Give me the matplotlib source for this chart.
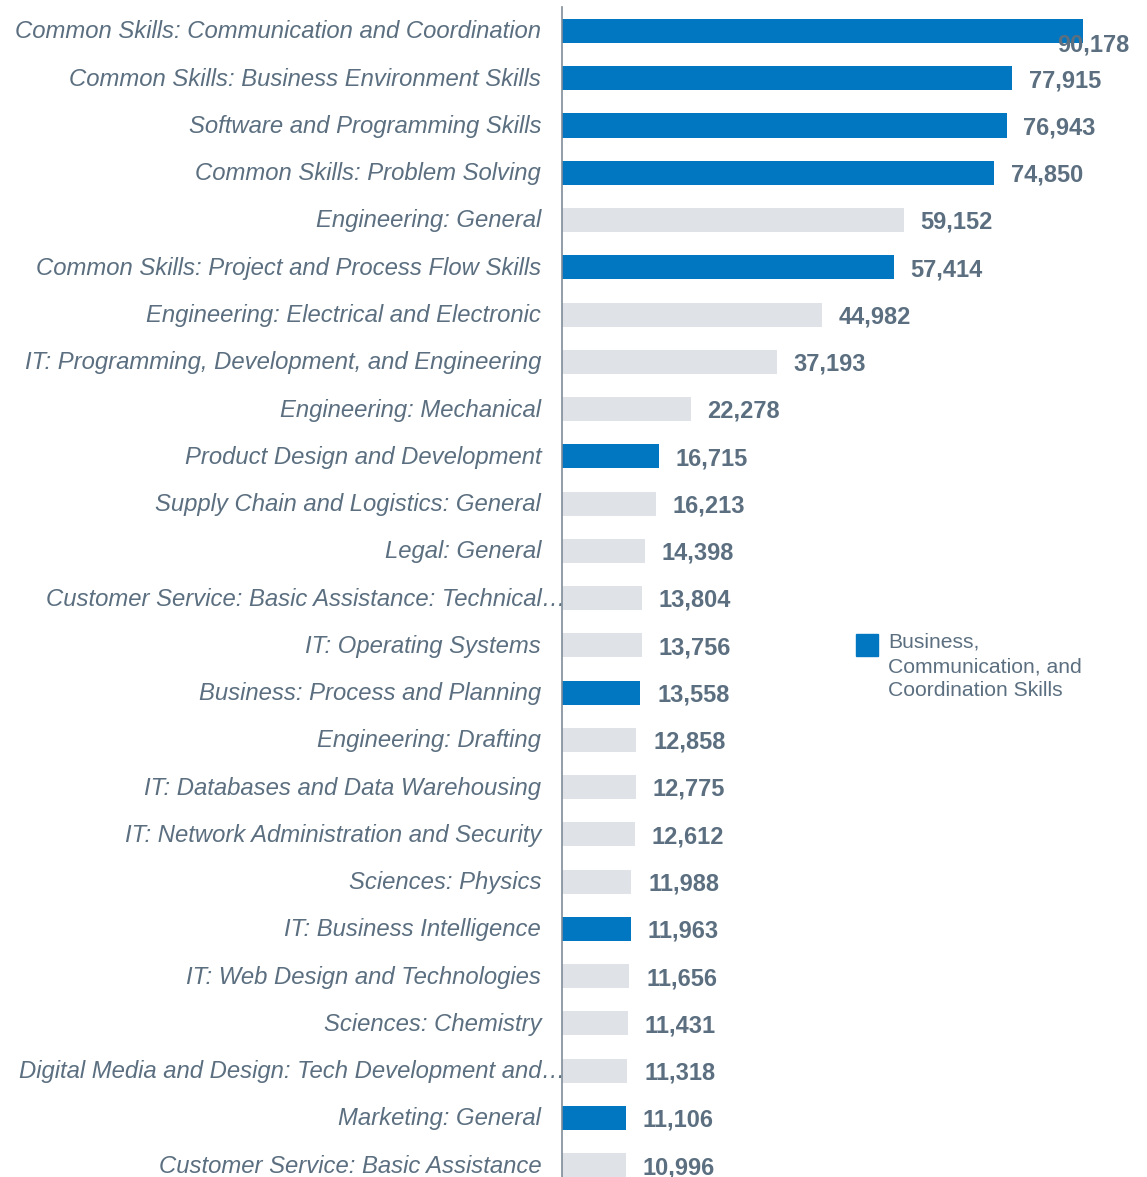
import matplotlib.pyplot as plt
from matplotlib.patches import Rectangle

# data
skills = [
    'Common Skills: Communication and Coordination',
    'Common Skills: Business Environment Skills',
    'Software and Programming Skills',
    'Common Skills: Problem Solving',
    'Engineering: General',
    'Common Skills: Project and Process Flow Skills',
    'Engineering: Electrical and Electronic',
    'IT: Programming, Development, and Engineering',
    'Engineering: Mechanical',
    'Product Design and Development',
    'Supply Chain and Logistics: General',
    'Legal: General',
    'Customer Service: Basic Assistance: Technical\u2026',
    'IT: Operating Systems',
    'Business: Process and Planning',
    'Engineering: Drafting',
    'IT: Databases and Data Warehousing',
    'IT: Network Administration and Security',
    'Sciences: Physics',
    'IT: Business Intelligence',
    'IT: Web Design and Technologies',
    'Sciences: Chemistry',
    'Digital Media and Design: Tech Development and\u2026',
    'Marketing: General',
    'Customer Service: Basic Assistance',
]
postings = [90178, 77915, 76943, 74850, 59152, 57414, 44982, 37193, 22278, 16715,
            16213, 14398, 13804, 13756, 13558, 12858, 12775, 12612, 11988, 11963,
            11656, 11431, 11318, 11106, 10996]
highlight = [True, True, True, True, False, True, False, False, False, True,
             False, False, False, False, True, False, False, False, False, True,
             False, False, False, True, False]
legend_label = 'Business,\nCommunication, and\nCoordination Skills'

blue = '#0077c0'
grey = '#dfe3e7'
txt = '#5b6f80'

plt.rcParams['font.family'] = ['Liberation Sans', 'DejaVu Sans']

fig = plt.figure(figsize=(11.47, 11.77), dpi=100)
ax = fig.add_axes([0.49, 0.0, 0.51, 1 - 7.4 / 1177])

ypos = list(range(len(skills)))
colors = [blue if h else grey for h in highlight]
ax.barh(ypos, postings, height=0.51, color=colors)

ax.set_xlim(0, 101250)
ax.set_ylim(24.25, -0.5)

# value labels
for i, v in enumerate(postings):
    if i == 0:
        # the top label did not fit and sits lower
        ax.text(v - 4400, i + 0.3, f'{v:,}', ha='left', va='center',
                fontsize=17, fontweight='bold', color=txt)
    else:
        ax.text(v + 2900, i + 0.05, f'{v:,}', ha='left', va='center',
                fontsize=17, fontweight='bold', color=txt)

# category labels, truncated ones run up to the axis line
for i, s in enumerate(skills):
    x = 550 if s.endswith('\u2026') else -3600
    ax.text(x, i + 0.02, s, ha='right', va='center', fontsize=17.2,
            fontstyle='italic', color=txt)

ax.set_xticks([])
ax.set_yticks([])
for sp in ['top', 'right', 'bottom']:
    ax.spines[sp].set_visible(False)
ax.spines['left'].set_color('#7f8c99')
ax.spines['left'].set_linewidth(1.2)
ax.spines['left'].set_zorder(5)

# legend
fig.patches.append(Rectangle((856 / 1147, 1 - 656 / 1177), 22 / 1147, 22 / 1177,
                             transform=fig.transFigure, color=blue))
fig.text(888 / 1147, 1 - 633 / 1177, legend_label, ha='left', va='top',
         fontsize=15.2, color=txt, linespacing=1.35)

fig.savefig('out.png', dpi=100)
